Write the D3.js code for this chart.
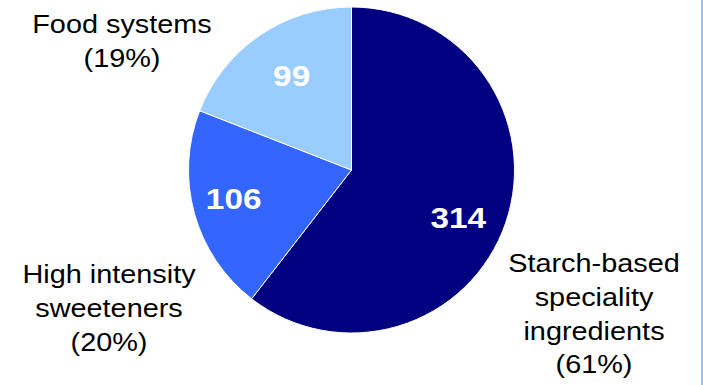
<!DOCTYPE html>
<html>
<head>
<meta charset="utf-8">
<script src="https://cdn.jsdelivr.net/npm/d3@7"></script>
<style>
  body { margin: 0; background: #fff; }
  text { font-family: "Liberation Sans", Arial, sans-serif; }
</style>
</head>
<body>
<script>
const width = 703;
const height = 385;

// data, clockwise from 12 o'clock
const segments = ['Starch-based speciality ingredients', 'High intensity sweeteners', 'Food systems'];
const values = [314, 106, 99];
const labelLines = [
  ['Starch-based', 'speciality', 'ingredients', '(61%)'],
  ['High intensity', 'sweeteners', '(20%)'],
  ['Food systems', '(19%)']
];
const colors = ['#000080', '#3366FF', '#99CCFF'];

const cx = 351.5, cy = 170, radius = 163;
const stretch = 1.11; // the source text is a little wider than it is tall

const svg = d3.select('body')
  .append('svg')
  .attr('width', width)
  .attr('height', height);

// thin frame line at the right edge
svg.append('rect')
  .attr('x', 701)
  .attr('y', 0)
  .attr('width', 2)
  .attr('height', height)
  .attr('fill', '#9DBEE6');

const pie = d3.pie().sort(null).value(d => d);
const arcs = pie(values);

const arc = d3.arc().innerRadius(0).outerRadius(radius);
const labelArc = d3.arc().innerRadius(115).outerRadius(115);

const g = svg.append('g').attr('transform', `translate(${cx},${cy})`);

g.selectAll('path')
  .data(arcs)
  .enter()
  .append('path')
  .attr('d', arc)
  .attr('fill', (d, i) => colors[i])
  .attr('stroke', '#fff')
  .attr('stroke-width', 1);

// value labels inside the slices (small nudges like the original)
const nudge = [[-2, 10], [-7, -2], [5, 0]];
g.selectAll('text.val')
  .data(arcs)
  .enter()
  .append('text')
  .attr('class', 'val')
  .attr('transform', (d, i) => {
    const c = labelArc.centroid(d);
    return `translate(${c[0] + nudge[i][0]},${c[1] + nudge[i][1]}) scale(${stretch},1)`;
  })
  .attr('text-anchor', 'middle')
  .attr('dy', '0.36em')
  .attr('fill', '#fff')
  .attr('font-weight', 'bold')
  .attr('font-size', 30)
  .text(d => d.data);

// category labels outside
const outside = [
  { x: 594, y: 272 },
  { x: 109, y: 283 },
  { x: 122, y: 33 }
];
const lineGap = 33.8;

labelLines.forEach((lines, i) => {
  const t = svg.append('text')
    .attr('transform', `translate(${outside[i].x},${outside[i].y}) scale(${stretch},1)`)
    .attr('text-anchor', 'middle')
    .attr('font-size', 26)
    .attr('fill', '#000');
  lines.forEach((s, j) => {
    t.append('tspan')
      .attr('x', 0)
      .attr('y', j * lineGap)
      .text(s);
  });
});
</script>
</body>
</html>
